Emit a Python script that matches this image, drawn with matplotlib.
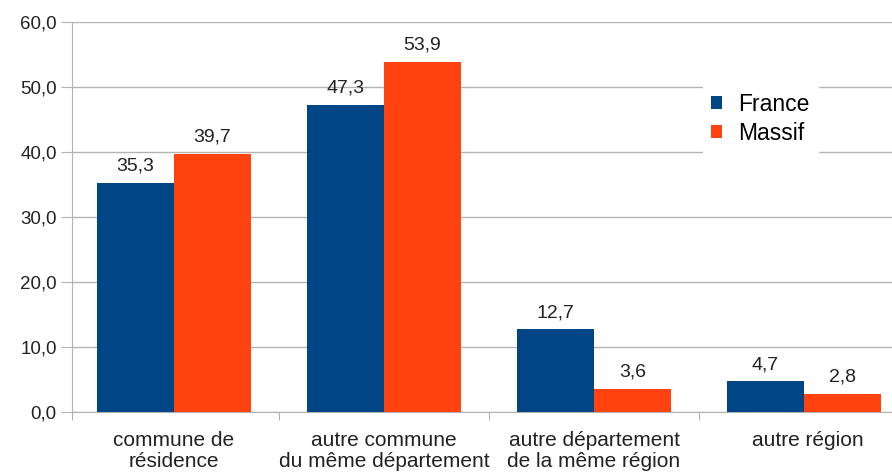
import matplotlib.pyplot as plt
import numpy as np

categories = ["commune de\nrésidence", "autre commune\ndu même département",
              "autre département\nde la même région", "autre région"]
france = [35.3, 47.3, 12.7, 4.7]
massif = [39.7, 53.9, 3.6, 2.8]
yticks = [0, 10, 20, 30, 40, 50, 60]

plt.rcParams['font.family'] = ['Liberation Sans', 'DejaVu Sans']

fig = plt.figure(figsize=(8.92, 4.76), dpi=100)
ax = fig.add_axes([72 / 892, 64 / 476, 820 / 892, 390 / 476])

x = np.arange(len(categories))
w = 0.367
b1 = ax.bar(x - w / 2, france, w, color="#004586", label="France", zorder=3)
b2 = ax.bar(x + w / 2, massif, w, color="#ff420e", label="Massif", zorder=3)

for bars, vals in ((b1, france), (b2, massif)):
    for r, v in zip(bars, vals):
        ax.text(r.get_x() + r.get_width() / 2, v + 1.3, f"{v:.1f}".replace(".", ","),
                ha="center", va="bottom", fontsize=14, color="#222222")

ax.set_xlim(-0.486, 3.419)
ax.set_ylim(0, 60)
ax.set_yticks(yticks)
ax.set_yticklabels([f"{t:.1f}".replace(".", ",") for t in yticks], fontsize=13.5, color="#222222")
ax.yaxis.grid(True, color="#b3b3b3", linewidth=1, zorder=0)
ax.tick_params(axis="y", length=8, color="#b3b3b3", pad=3)

# category boundaries as ticks, labels at centers
ax.set_xticks([-0.486, 0.5, 1.5, 2.5])
ax.set_xticklabels([])
ax.tick_params(axis="x", length=6, color="#b3b3b3")
for i, c in enumerate(categories):
    ax.text(i + 0.02 * (i == 3), -2.9, c, ha="center", va="top", fontsize=15,
            color="#222222", linespacing=1.15)

for s in ["top", "right"]:
    ax.spines[s].set_visible(False)
ax.spines["left"].set_color("#b3b3b3")
ax.spines["bottom"].set_color("#b3b3b3")

leg = ax.legend(loc="upper left", bbox_to_anchor=(631 / 820, 327 / 390), frameon=True,
                fontsize=16.5, handlelength=0.5, handleheight=0.5, handletextpad=0.7,
                borderpad=0.35, labelspacing=0.25, borderaxespad=0, fancybox=False)
leg.get_frame().set_edgecolor("white")
leg.get_frame().set_facecolor("white")
leg.get_frame().set_alpha(1)
leg.set_zorder(5)

fig.savefig("out.png", dpi=100)
